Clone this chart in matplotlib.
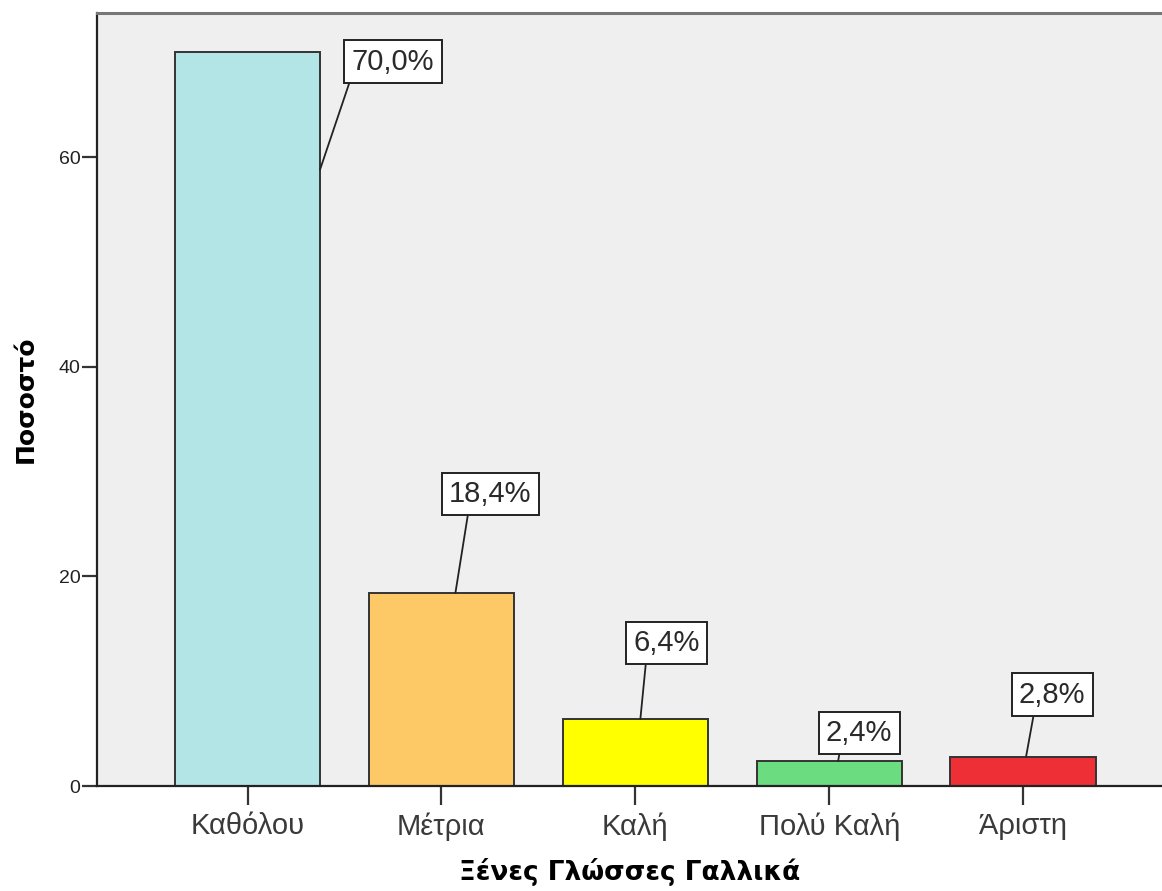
import matplotlib
matplotlib.use("Agg")
from matplotlib import pyplot as plt
import numpy as np

categories = ["Καθόλου", "Μέτρια", "Καλή", "Πολύ Καλή", "Άριστη"]
percent = [70.0, 18.4, 6.4, 2.4, 2.8]
bar_colors = ["#b4e5e6", "#fdc966", "#ffff00", "#6cdc80", "#ee3036"]

# label anchor tweaks: (x shift on bar, fraction of bar height, text offset px, leader start on box)
anchors = [(0.374, 0.84, (73, 108), (0.0, 0.0)),
           (0.072, 1.0, (35, 99), (0.24, 0.0)),
           (0.026, 1.0, (26, 76), (0.2, 0.0)),
           (0.046, 1.0, (21, 28), (0.22, 0.0)),
           (0.015, 1.0, (26, 62), (0.24, 0.0))]

fig = plt.figure(figsize=(11.62, 8.91), dpi=100)
ax = fig.add_axes([0.0835, 0.1178, 0.9165, 0.8676])
ax.set_facecolor("#efefef")

x = np.arange(len(categories))
ax.bar(x, percent, 0.75, color=bar_colors, edgecolor="#333333", linewidth=1.4, zorder=2)

for i, v in enumerate(percent):
    dx, frac, off, rel = anchors[i]
    ax.annotate("{:.1f}%".format(v).replace(".", ","),
                xy=(x[i] + dx, v * frac), xytext=off, textcoords="offset pixels",
                ha="center", va="center", fontsize=21, family="Liberation Sans",
                color="#2a2a2a", zorder=4,
                bbox=dict(boxstyle="square,pad=0.25", fc="white", ec="#222222", lw=1.4),
                arrowprops=dict(arrowstyle="-", color="#222222", lw=1.3, relpos=rel,
                                shrinkA=0, shrinkB=0))

ax.set_xlim(-0.776, 4.716)
ax.set_ylim(0, 73.74)
ax.set_xticks(x)
ax.set_xticklabels(categories, family="Liberation Sans", fontsize=21, color="#3a3a3a")
ax.set_yticks([0, 20, 40, 60])
ax.set_yticklabels(["0", "20", "40", "60"], family="Liberation Sans", fontsize=14, color="#222222")
ax.tick_params(axis="x", length=14, width=1.6, color="#333333", pad=5)
ax.tick_params(axis="y", length=11, width=1.6, color="#333333", pad=1)

for s in ["left", "bottom"]:
    ax.spines[s].set_linewidth(1.6)
    ax.spines[s].set_color("#222222")
ax.spines["top"].set_linewidth(2.2)
ax.spines["top"].set_color("#777777")
ax.spines["right"].set_visible(False)

ax.set_xlabel("Ξένες Γλώσσες Γαλλικά", fontsize=19, fontweight="bold", labelpad=12)
ax.set_ylabel("Ποσοστό", fontsize=18, fontweight="bold")
ax.yaxis.set_label_coords(-0.056, 0.5)

fig.savefig("out.png", dpi=100)
